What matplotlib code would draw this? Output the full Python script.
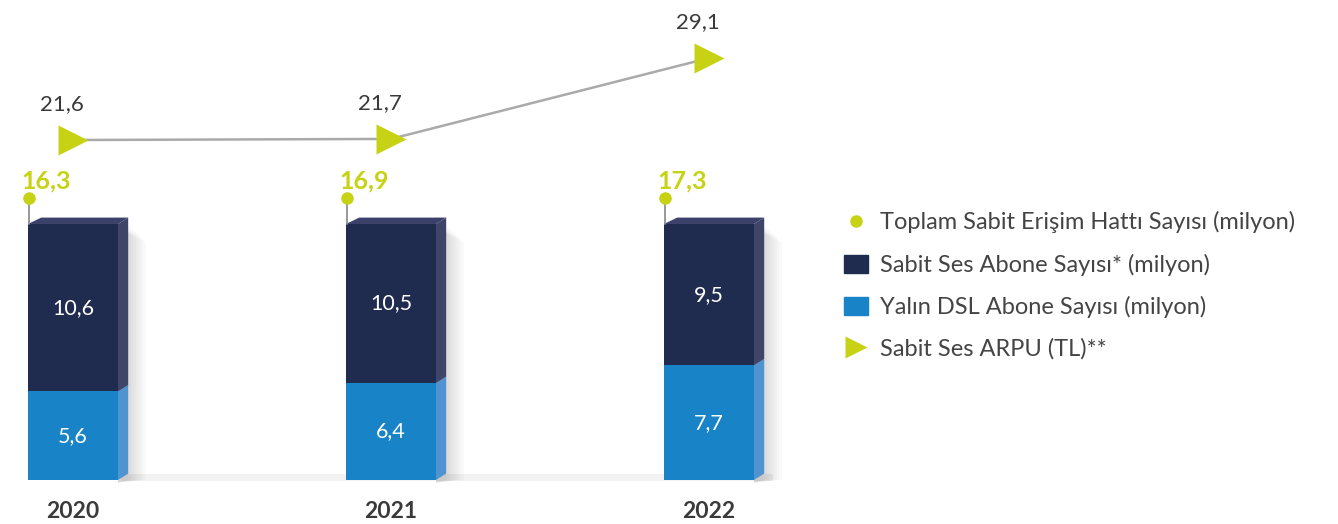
import matplotlib.pyplot as plt
from matplotlib.lines import Line2D
from matplotlib.patches import Patch, Polygon

plt.rcParams["font.family"] = ["Lato", "DejaVu Sans"]

# --- data ---------------------------------------------------------------
years = ["2020", "2021", "2022"]
totals = [16.3, 16.9, 17.3]          # Toplam Sabit Erişim Hattı Sayısı (milyon)
voice = [10.6, 10.5, 9.5]            # Sabit Ses Abone Sayısı (milyon)
naked_dsl = [5.6, 6.4, 7.7]          # Yalın DSL Abone Sayısı (milyon)
arpu = [21.6, 21.7, 29.1]            # Sabit Ses ARPU (TL)

legend_labels = [
    "Toplam Sabit Erişim Hattı Sayısı (milyon)",
    "Sabit Ses Abone Sayısı* (milyon)",
    "Yalın DSL Abone Sayısı (milyon)",
    "Sabit Ses ARPU (TL)**",
]

# --- style --------------------------------------------------------------
NAVY = "#1f2b4f"
NAVY_SIDE = "#3f4569"
NAVY_TOP = "#3b416a"
BLUE = "#1884c7"
BLUE_SIDE = "#4f93d1"
GREEN = "#c8d214"
TEXT = "#3a3a3a"
BAR_W = 0.283
DX, DY = 0.032, 0.025   # fake depth of the 3D boxes

fig = plt.figure(figsize=(13.38, 5.24), dpi=100)
ax = fig.add_axes([0, 0, 820 / 1338, 1])
ax.set_xlim(-0.2296, 2.349)
ax.set_ylim(-0.172, 1.875)
ax.axis("off")

x = range(len(years))

# floor shadow
ax.fill_between([0.15, 2.2], -0.005, 0.022, color="#f2f2f2", lw=0, zorder=0)

for i in x:
    tot = voice[i] + naked_dsl[i]
    low = naked_dsl[i] / tot
    left, right = i - BAR_W / 2, i + BAR_W / 2

    # soft shadow to the right
    for k in range(8):
        ax.add_patch(Polygon([(right, -0.01), (right + DX + 0.008 * k, 0.0),
                              (right + DX + 0.008 * k, 1.0 - 0.01 * k), (right, 0.98)],
                             closed=True, color="#000000", alpha=0.018, lw=0, zorder=1))

    ax.bar(i, low, width=BAR_W, color=BLUE, zorder=3)
    ax.bar(i, 1 - low, bottom=low, width=BAR_W, color=NAVY, zorder=3)

    # side faces
    ax.add_patch(Polygon([(right, 0), (right + DX, DY), (right + DX, low + DY), (right, low)],
                         closed=True, color=BLUE_SIDE, lw=0, zorder=3))
    ax.add_patch(Polygon([(right, low), (right + DX, low + DY), (right + DX, 1 + DY), (right, 1)],
                         closed=True, color=NAVY_SIDE, lw=0, zorder=3))
    # top face
    ax.add_patch(Polygon([(left, 1), (left + DX * 1.3, 1 + DY), (right + DX, 1 + DY), (right, 1)],
                         closed=True, color=NAVY_TOP, lw=0, zorder=3))

    ax.text(i, low + (1 - low) / 2, f"{voice[i]:.1f}".replace(".", ","),
            ha="center", va="center", color="white", fontsize=15.5, zorder=4)
    ax.text(i, low / 2, f"{naked_dsl[i]:.1f}".replace(".", ","),
            ha="center", va="center", color="white", fontsize=15.5, zorder=4)

    # total pin
    ax.plot([left + 0.004, left + 0.004], [1.0, 1.1], color="#888888", lw=1.2, zorder=4)
    ax.plot(left + 0.004, 1.1, "o", color=GREEN, ms=8, zorder=5)
    ax.text(left - 0.02, 1.17, f"{totals[i]:.1f}".replace(".", ","),
            ha="left", va="center", color=GREEN, fontsize=18, fontweight="bold")

    ax.text(i, -0.125, years[i], ha="center", va="center", color=TEXT,
            fontsize=16.5, fontweight="bold")

# ARPU line on its own scale
ax2 = ax.twinx()
ax2.set_ylim(-13.53, 34.41)
ax2.axis("off")
ax2.plot(list(x), arpu, color="#aaaaaa", lw=1.8, zorder=2)
ax2.plot(list(x), arpu, ">", color=GREEN, ms=21, mec="none", zorder=6)
for i in x:
    ax2.annotate(f"{arpu[i]:.1f}".replace(".", ","), (i, arpu[i]),
                 xytext=(-8, 26), textcoords="offset points",
                 ha="center", va="center", color=TEXT, fontsize=16)

# legend
handles = [
    Line2D([], [], marker="o", ls="none", color=GREEN, ms=8),
    Patch(color=NAVY),
    Patch(color=BLUE),
    Line2D([], [], marker=">", ls="none", color=GREEN, ms=16, mec="none"),
]
fig.legend(handles, legend_labels, loc="upper left", bbox_to_anchor=(823 / 1338, 1 - 190 / 524),
           frameon=False, fontsize=17, labelcolor="#444444", labelspacing=0.86,
           handlelength=1.0, handleheight=0.8, handletextpad=0.5)

fig.savefig("out.png", dpi=100)
